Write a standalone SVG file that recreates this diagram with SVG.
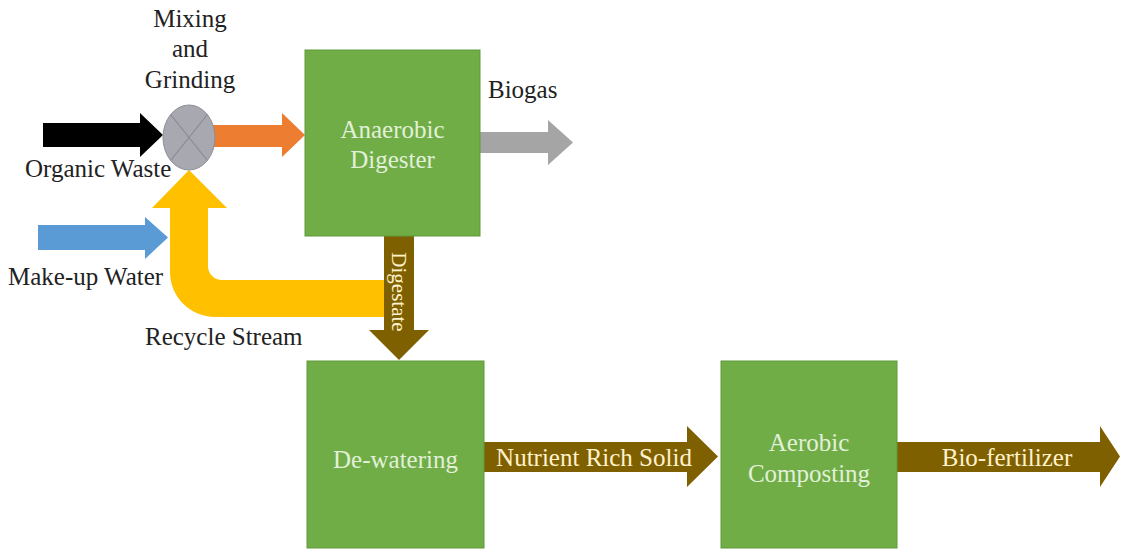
<svg xmlns="http://www.w3.org/2000/svg" width="1121" height="550" viewBox="0 0 1121 550">
<style>
text{font-family:'Liberation Serif','Times New Roman',serif;font-size:25px}
.lbl{fill:#222}
.box{fill:#70AD47;stroke:#5E9A3A;stroke-width:1}
.btxt{fill:#E2F0D9;text-anchor:middle}
.atxt{fill:#FFF2CC;text-anchor:middle}
.brown{fill:#7F6000}
</style>
<rect width="1121" height="550" fill="#ffffff"/>
<g id="connectors">
  <path id="organic-waste-arrow" d="M43,123 H140 V113 L163,135 L140,157 V147 H43 Z" fill="#000000"/>
  <path id="makeup-water-arrow" d="M38,225 H145 V217 L168,237.5 L145,259 V250 H38 Z" fill="#5B9BD5"/>
  <path id="recycle-arrow" d="M384,280 H222 A14,14 0 0 1 208,266 V208 H227 L189,170 L152,208 H170 V272 A45,45 0 0 0 215,317 H384 Z" fill="#FFC000"/>
  <path id="mix-to-digester" d="M208,125 H282 V113 L305,135 L282,157 V147 H208 Z" fill="#ED7D31"/>
  <path id="biogas-arrow" d="M480,132 H548 V120 L573,142.5 L548,165 V153 H480 Z" fill="#A5A5A5"/>
  <path id="digestate-arrow" class="brown" d="M384,236 H414 V330 H429 L399,360 L369,330 H384 Z"/>
  <path id="nutrient-arrow" class="brown" d="M484,442 H687 V426 L718,456.5 L687,487 V472 H484 Z"/>
  <path id="biofertilizer-arrow" class="brown" d="M897,442 H1100 V426 L1120,456.5 L1100,487 V472 H897 Z"/>
</g>
<g id="mixer">
  <ellipse cx="189" cy="137.5" rx="26" ry="32.5" fill="#A8A8B0" stroke="#8E8E96" stroke-width="1"/>
  <path d="M170.6,114.5 L207.4,160.5 M207.4,114.5 L170.6,160.5" stroke="#8A8A92" stroke-width="1.2" fill="none"/>
</g>
<g id="anaerobic-digester">
  <rect class="box" x="305" y="50" width="175" height="186"/>
  <text class="btxt" x="392.5" y="138">Anaerobic</text>
  <text class="btxt" x="392.5" y="168">Digester</text>
</g>
<g id="dewatering">
  <rect class="box" x="307" y="361" width="177" height="187"/>
  <text class="btxt" x="395.5" y="468">De-watering</text>
</g>
<g id="aerobic-composting">
  <rect class="box" x="721" y="361" width="176" height="187"/>
  <text class="btxt" x="809" y="451">Aerobic</text>
  <text class="btxt" x="809" y="482">Composting</text>
</g>
<g id="labels">
  <text class="lbl" x="190" y="27" text-anchor="middle">Mixing</text>
  <text class="lbl" x="190" y="57" text-anchor="middle">and</text>
  <text class="lbl" x="190" y="88" text-anchor="middle">Grinding</text>
  <text class="lbl" x="25" y="177">Organic Waste</text>
  <text class="lbl" x="8" y="285">Make-up Water</text>
  <text class="lbl" x="145" y="345">Recycle Stream</text>
  <text class="lbl" x="488" y="98">Biogas</text>
  <text class="atxt" x="594" y="466">Nutrient Rich Solid</text>
  <text class="atxt" x="1007" y="466">Bio-fertilizer</text>
  <text class="atxt" transform="translate(399,292) rotate(90)" x="0" y="7" style="font-size:21px">Digestate</text>
</g>
</svg>
